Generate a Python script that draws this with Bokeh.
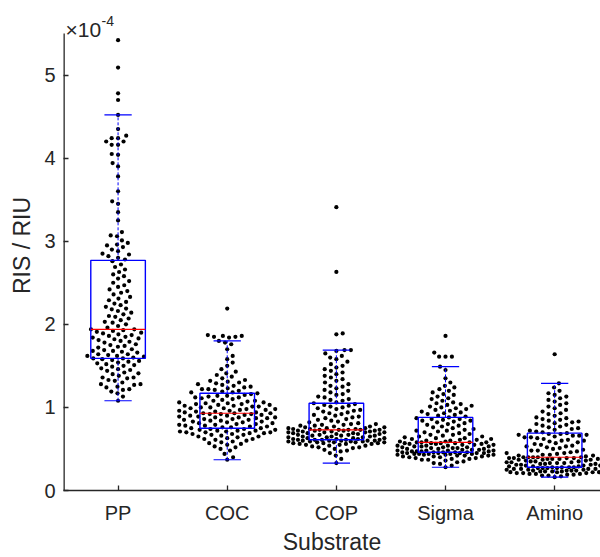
import numpy as np
from bokeh.plotting import figure
from bokeh.models import Label, FixedTicker, Range1d
from bokeh.embed import file_html
from bokeh.resources import INLINE

categories = ["PP", "COC", "COP", "Sigma", "Amino"]

# RIS / RIU values, in units of 1e-4
pp_vals = [1.08, 1.13, 1.17, 1.19, 1.21, 1.22, 1.24, 1.25, 1.27, 1.28, 1.28, 1.30, 1.32, 1.33, 1.35,
           1.36, 1.36, 1.38, 1.40, 1.41, 1.42, 1.44, 1.45, 1.46, 1.47, 1.49, 1.50, 1.51, 1.52, 1.53,
           1.54, 1.55, 1.56, 1.57, 1.58, 1.59, 1.59,
           1.60, 1.61, 1.62, 1.62, 1.63, 1.64, 1.64, 1.66, 1.67, 1.68, 1.68, 1.69, 1.70, 1.72, 1.73,
           1.74, 1.75, 1.76, 1.78, 1.79, 1.80, 1.81, 1.82, 1.83, 1.84, 1.85, 1.86, 1.87, 1.88, 1.89,
           1.90, 1.91, 1.92, 1.93, 1.94, 1.94,
           1.96, 1.98, 2.00, 2.02, 2.03, 2.05, 2.07, 2.09, 2.10, 2.12, 2.14, 2.16, 2.18, 2.19, 2.21,
           2.23, 2.25, 2.27, 2.29, 2.31, 2.33, 2.36, 2.38, 2.40, 2.42, 2.45, 2.47, 2.50, 2.52, 2.55,
           2.58, 2.60, 2.63, 2.66, 2.69, 2.72, 2.76,
           2.78, 2.80, 2.82, 2.84, 2.85, 2.88, 2.90, 2.93, 2.95, 2.96, 2.98, 3.01, 3.06, 3.07, 3.11,
           3.25, 3.35, 3.45, 3.48, 3.60, 3.78, 3.90, 3.94, 4.04, 4.05, 4.16, 4.16, 4.20, 4.20, 4.24,
           4.24, 4.27, 4.35, 4.52, 4.70, 4.78, 5.09, 5.42]
coc_vals = [0.37, 0.40, 0.44, 0.48, 0.50, 0.52, 0.53, 0.55, 0.56, 0.57, 0.58, 0.59, 0.60, 0.61, 0.62,
            0.62, 0.63, 0.64, 0.65, 0.65, 0.66, 0.67, 0.67, 0.68, 0.68, 0.69, 0.69, 0.70, 0.70, 0.70,
            0.71, 0.71, 0.72, 0.72, 0.72, 0.73, 0.73, 0.74, 0.74, 0.75,
            0.75, 0.76, 0.76, 0.77, 0.77, 0.78, 0.78, 0.79, 0.79, 0.80, 0.80, 0.81, 0.81, 0.82, 0.82,
            0.83, 0.83, 0.84, 0.84, 0.85, 0.85, 0.86, 0.86, 0.87, 0.87, 0.88, 0.88, 0.88, 0.89, 0.89,
            0.90, 0.90, 0.91, 0.91, 0.92, 0.92, 0.92, 0.93, 0.93, 0.93,
            0.94, 0.94, 0.95, 0.95, 0.96, 0.96, 0.97, 0.97, 0.98, 0.98, 0.99, 0.99, 1.00, 1.00, 1.01,
            1.01, 1.02, 1.02, 1.03, 1.03, 1.04, 1.04, 1.05, 1.05, 1.06, 1.06, 1.07, 1.08, 1.08, 1.09,
            1.10, 1.11, 1.12, 1.12, 1.13, 1.14, 1.14, 1.15, 1.16, 1.17,
            1.18, 1.18, 1.19, 1.20, 1.21, 1.22, 1.22, 1.23, 1.24, 1.25, 1.26, 1.27, 1.28, 1.29, 1.30,
            1.31, 1.32, 1.33, 1.35, 1.37, 1.39, 1.41, 1.43, 1.46, 1.50, 1.54, 1.58, 1.62, 1.70, 1.76,
            1.78, 1.80, 1.84, 1.85, 1.85, 1.86, 1.86, 1.87, 2.19]
cop_vals = [0.33, 0.38, 0.42, 0.45, 0.47, 0.48, 0.49, 0.50, 0.51, 0.52, 0.52, 0.53, 0.54, 0.54, 0.55,
            0.55, 0.56, 0.56, 0.56, 0.57, 0.57, 0.57, 0.58, 0.58, 0.58, 0.58, 0.59, 0.59, 0.59, 0.59,
            0.60, 0.60, 0.60, 0.60, 0.60, 0.61, 0.61, 0.61, 0.61, 0.61,
            0.62, 0.62, 0.62, 0.63, 0.63, 0.63, 0.64, 0.64, 0.64, 0.65, 0.65, 0.65, 0.66, 0.66, 0.66,
            0.67, 0.67, 0.67, 0.68, 0.68, 0.68, 0.69, 0.69, 0.69, 0.70, 0.70, 0.70, 0.70, 0.71, 0.71,
            0.71, 0.72, 0.72, 0.72, 0.72, 0.73, 0.73, 0.73, 0.73, 0.73,
            0.74, 0.74, 0.74, 0.75, 0.75, 0.75, 0.76, 0.76, 0.77, 0.77, 0.78, 0.78, 0.79, 0.79, 0.80,
            0.80, 0.81, 0.82, 0.83, 0.84, 0.85, 0.86, 0.87, 0.88, 0.89, 0.90, 0.91, 0.92, 0.93, 0.94,
            0.95, 0.96, 0.97, 0.98, 0.99, 1.00, 1.01, 1.02, 1.03, 1.04,
            1.05, 1.06, 1.08, 1.09, 1.10, 1.12, 1.13, 1.15, 1.16, 1.18, 1.20, 1.21, 1.23, 1.25, 1.26,
            1.28, 1.30, 1.32, 1.34, 1.36, 1.38, 1.40, 1.42, 1.44, 1.46, 1.48, 1.50, 1.52, 1.55, 1.58,
            1.60, 1.62, 1.65, 1.68, 1.69, 1.69, 1.88, 1.89, 2.63, 3.41]
sigma_vals = [0.28, 0.30, 0.32, 0.33, 0.34, 0.35, 0.36, 0.37, 0.37, 0.38, 0.38, 0.39, 0.39, 0.40, 0.40,
              0.41, 0.41, 0.41, 0.42, 0.42, 0.42, 0.43, 0.43, 0.43, 0.43, 0.44, 0.44, 0.44, 0.44, 0.44,
              0.45, 0.45, 0.45, 0.45, 0.45, 0.46, 0.46, 0.46, 0.46, 0.46,
              0.47, 0.47, 0.47, 0.47, 0.48, 0.48, 0.48, 0.48, 0.49, 0.49, 0.49, 0.50, 0.50, 0.50, 0.51,
              0.51, 0.51, 0.52, 0.52, 0.52, 0.53, 0.53, 0.53, 0.54, 0.54, 0.54, 0.55, 0.55, 0.55, 0.56,
              0.56, 0.56, 0.57, 0.57, 0.57, 0.57, 0.58, 0.58, 0.58, 0.58,
              0.59, 0.59, 0.60, 0.60, 0.61, 0.61, 0.62, 0.62, 0.63, 0.63, 0.64, 0.65, 0.65, 0.66, 0.67,
              0.67, 0.68, 0.69, 0.70, 0.71, 0.72, 0.72, 0.73, 0.74, 0.75, 0.76, 0.77, 0.78, 0.79, 0.80,
              0.81, 0.82, 0.83, 0.84, 0.84, 0.85, 0.86, 0.86, 0.87, 0.88,
              0.89, 0.90, 0.91, 0.92, 0.93, 0.94, 0.95, 0.96, 0.97, 0.98, 0.99, 1.00, 1.01, 1.02, 1.03,
              1.04, 1.05, 1.06, 1.08, 1.10, 1.11, 1.13, 1.15, 1.16, 1.18, 1.20, 1.22, 1.24, 1.26, 1.30,
              1.35, 1.45, 1.49, 1.61, 1.61, 1.61, 1.66, 1.86]
amino_vals = [0.16, 0.17, 0.18, 0.18, 0.19, 0.19, 0.20, 0.20, 0.20, 0.21, 0.21, 0.21, 0.22, 0.22, 0.22,
              0.22, 0.23, 0.23, 0.23, 0.23, 0.24, 0.24, 0.24, 0.24, 0.25, 0.25, 0.25, 0.25, 0.26, 0.26,
              0.26, 0.26, 0.27, 0.27, 0.27, 0.27, 0.28, 0.28, 0.28, 0.28,
              0.29, 0.29, 0.29, 0.30, 0.30, 0.30, 0.31, 0.31, 0.31, 0.32, 0.32, 0.32, 0.33, 0.33, 0.33,
              0.34, 0.34, 0.34, 0.35, 0.35, 0.35, 0.36, 0.36, 0.36, 0.37, 0.37, 0.37, 0.38, 0.38, 0.38,
              0.38, 0.39, 0.39, 0.39, 0.39, 0.40, 0.40, 0.40, 0.40, 0.40,
              0.41, 0.41, 0.42, 0.42, 0.43, 0.43, 0.44, 0.45, 0.45, 0.46, 0.47, 0.48, 0.48, 0.49, 0.50,
              0.51, 0.52, 0.53, 0.53, 0.54, 0.55, 0.56, 0.57, 0.58, 0.59, 0.60, 0.60, 0.61, 0.62, 0.63,
              0.64, 0.64, 0.65, 0.66, 0.66, 0.67, 0.67, 0.68, 0.68, 0.69,
              0.70, 0.71, 0.72, 0.73, 0.74, 0.75, 0.76, 0.77, 0.78, 0.79, 0.80, 0.81, 0.82, 0.83, 0.84,
              0.85, 0.86, 0.87, 0.88, 0.90, 0.92, 0.93, 0.95, 0.97, 0.99, 1.01, 1.03, 1.05, 1.07, 1.09,
              1.11, 1.13, 1.15, 1.17, 1.20, 1.24, 1.29, 1.64]

# box-plot statistics (1e-4 units)
q1 = [1.59, 0.75, 0.61, 0.46, 0.28]
median = [1.94, 0.93, 0.73, 0.58, 0.40]
q3 = [2.77, 1.17, 1.05, 0.88, 0.69]
whisker_lo = [1.08, 0.37, 0.33, 0.28, 0.16]
whisker_hi = [4.52, 1.80, 1.69, 1.49, 1.29]

groups = [pp_vals, coc_vals, cop_vals, sigma_vals, amino_vals]

W, H = 600, 557
LEFT, BOTTOM = 63, 67
AXIS_TOP = 33          # pixel row where the y axis ends (value 5.5)
X0, X1 = 0.5, 5.42
Y0, YMAX = 0.0, 5.5
PPX = (W - LEFT) / (X1 - X0)
PPY = (H - AXIS_TOP - BOTTOM) / (YMAX - Y0)
Y1 = YMAX + AXIS_TOP / PPY   # frame reaches the top of the canvas


def swarm_offsets(vals, d=6.4, maxw=48.0):
    vals = np.asarray(vals, dtype=float)
    order = np.argsort(vals, kind="stable")
    placed_x, placed_y = [], []
    xs = np.zeros(len(vals))
    grid = np.linspace(-maxw, maxw, 41)
    for k, i in enumerate(order):
        y = vals[i] * PPY
        sgn = 1 if k % 2 == 0 else -1
        near = [(px, py) for px, py in zip(placed_x, placed_y) if abs(py - y) < d]
        cands = [0.0]
        for px, py in near:
            dx = np.sqrt(d * d - (y - py) ** 2)
            cands += [px + dx, px - dx]
        cands = [c for c in cands if abs(c) <= maxw]
        cands.sort(key=lambda c: abs(c) + 1e-7 * c * sgn)
        chosen = None
        for c in cands:
            if all((c - px) ** 2 + (y - py) ** 2 >= d * d - 1e-6 for px, py in near):
                chosen = c
                break
        if chosen is None:
            best, bestd = 0.0, -1
            for g in grid:
                md = min(((g - px) ** 2 + (y - py) ** 2) for px, py in near)
                if md > bestd + 1e-9:
                    best, bestd = g, md
            chosen = best
        xs[i] = chosen
        placed_x.append(chosen)
        placed_y.append(y)
    return xs / PPX


p = figure(width=W, height=H, output_backend="svg", toolbar_location=None,
           x_range=Range1d(X0, X1), y_range=Range1d(Y0, Y1),
           min_border_left=LEFT, min_border_right=0, min_border_top=0,
           min_border_bottom=BOTTOM)
p.outline_line_color = None
p.xgrid.visible = False
p.ygrid.visible = False
p.background_fill_color = "white"
p.border_fill_color = "white"

AX = "#262626"
FONT = "Liberation Sans"

# y axis line drawn only up to 5.5 (frame extends higher for the exponent label)
p.segment(x0=[X0], y0=[Y0], x1=[X0], y1=[YMAX], line_color=AX, line_width=2.6)

# swarm points
for k, vals in enumerate(groups):
    xs = (k + 1) + swarm_offsets(vals)
    p.scatter(xs, vals, size=4.2, color="black", line_color=None)

pos = [k + 1 for k in range(len(categories))]
bw = 0.25
cw = 0.125
BLUE = "#0000ff"
# whiskers
p.segment(x0=pos, y0=q3, x1=pos, y1=whisker_hi, line_color=BLUE, line_dash="3 2", line_width=1)
p.segment(x0=pos, y0=whisker_lo, x1=pos, y1=q1, line_color=BLUE, line_dash="3 2", line_width=1)
# caps
p.segment(x0=[x - cw for x in pos], y0=whisker_hi, x1=[x + cw for x in pos], y1=whisker_hi,
          line_color=BLUE, line_width=1.2)
p.segment(x0=[x - cw for x in pos], y0=whisker_lo, x1=[x + cw for x in pos], y1=whisker_lo,
          line_color=BLUE, line_width=1.2)
# boxes
p.quad(left=[x - bw for x in pos], right=[x + bw for x in pos], bottom=q1, top=q3,
       fill_color=None, line_color=BLUE, line_width=1.4)
# medians
p.segment(x0=[x - bw for x in pos], y0=median, x1=[x + bw for x in pos], y1=median,
          line_color="#ff0000", line_width=1.2)

for ax in (p.xaxis[0], p.yaxis[0]):
    ax.axis_line_color = AX
    ax.axis_line_width = 1.3
    ax.major_tick_line_color = AX
    ax.major_tick_line_width = 1.3
    ax.major_tick_in = 5
    ax.major_tick_out = 0
    ax.minor_tick_line_color = None
    ax.major_label_text_font = FONT
    ax.major_label_text_font_size = "20px"
    ax.major_label_text_color = AX
    ax.axis_label_text_font = FONT
    ax.axis_label_text_font_size = "23px"
    ax.axis_label_text_font_style = "normal"
    ax.axis_label_text_color = AX
p.yaxis[0].axis_line_color = None

p.xaxis.ticker = FixedTicker(ticks=pos)
p.xaxis.major_label_overrides = {x: c for x, c in zip(pos, categories)}
p.xaxis.axis_label = "Substrate"
p.xaxis.major_label_standoff = 11
p.xaxis.axis_label_standoff = 2

p.yaxis.ticker = FixedTicker(ticks=[0, 1, 2, 3, 4, 5])
p.yaxis.axis_label = "RIS / RIU"
p.yaxis.major_label_standoff = 8
p.yaxis.axis_label_standoff = 6

p.add_layout(Label(x=X0, y=YMAX, x_offset=2, y_offset=4, text="×10", text_font=FONT,
                   text_font_size="21px", text_color=AX, text_baseline="alphabetic"))
p.add_layout(Label(x=X0, y=YMAX, x_offset=38, y_offset=13, text="-4", text_font=FONT,
                   text_font_size="14px", text_color=AX, text_baseline="alphabetic"))

open("out.html", "w").write(file_html(p, INLINE))
